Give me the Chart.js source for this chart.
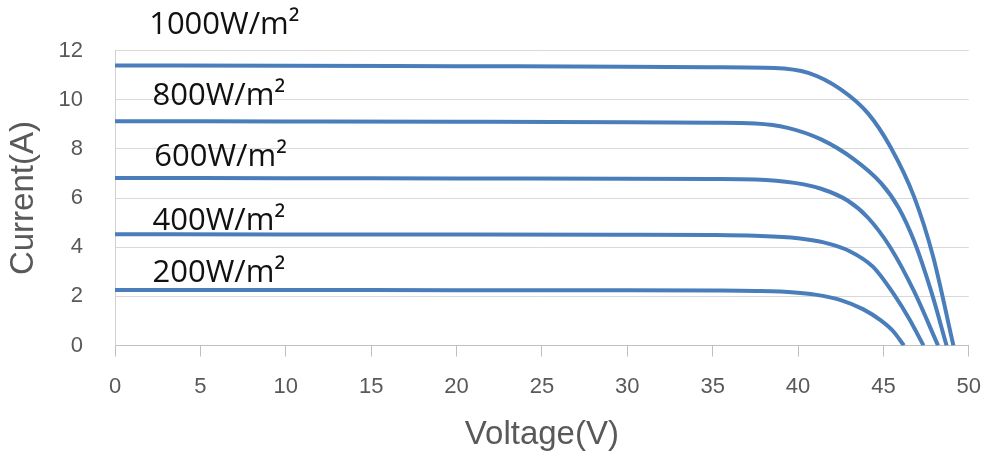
<!DOCTYPE html>
<html>
<head>
<meta charset="utf-8">
<title>I-V curves</title>
<script src="https://cdn.jsdelivr.net/npm/chart.js@4.4.1/dist/chart.umd.min.js"></script>
<style>
    html, body { margin: 0; padding: 0; background: #fff; }
    canvas { display: block; }
</style>
</head>
<body>
<canvas id="ivChart" width="998" height="459"></canvas>
<script>
/* ============================================
   I-V 特性曲线 — 不同辐照度
   ============================================ */

/** 辐照度 (W/m²) */
const irradiance = [1000, 800, 600, 400, 200];

/** 各曲线的电压点 (V) */
const voltage1000 = [0, 10, 20, 30, 35, 38.6, 40.6, 42.5, 44.1, 45.4, 46.8, 47.9, 49.1];
const voltage800  = [0, 10, 20, 30, 35, 37.5, 39.4, 41.35, 43.3, 44.85, 45.9, 46.8, 47.8, 48.7];
const voltage600  = [0, 10, 20, 30, 35, 37.5, 39.8, 41.35, 42.9, 44.1, 45.4, 46.8, 48.2];
const voltage400  = [0, 10, 20, 30, 35, 37.5, 40, 41.5, 43, 44.4, 45.6, 46.5, 47.35];
const voltage200  = [0, 10, 20, 30, 35, 37.5, 39.8, 41, 42.5, 43.8, 44.85, 45.6, 46.2];

/** 各曲线的电流点 (A) */
const current1000 = [11.4, 11.39, 11.37, 11.35, 11.33, 11.3, 11.1, 10.43, 9.45, 8.1, 6.05, 3.65, 0];
const current800  = [9.13, 9.12, 9.11, 9.09, 9.07, 9.04, 8.86, 8.39, 7.57, 6.62, 5.6, 4.25, 2.2, 0];
const current600  = [6.82, 6.81, 6.8, 6.79, 6.78, 6.76, 6.62, 6.38, 5.9, 5.2, 4.0, 2.2, 0];
const current400  = [4.53, 4.52, 4.52, 4.51, 4.5, 4.47, 4.37, 4.2, 3.85, 3.2, 2.1, 1.1, 0];
const current200  = [2.26, 2.26, 2.25, 2.25, 2.24, 2.22, 2.16, 2.07, 1.85, 1.48, 1.02, 0.56, 0];

/** 坐标轴刻度 */
const xTicks = [0, 5, 10, 15, 20, 25, 30, 35, 40, 45, 50];
const yTicks = [0, 2, 4, 6, 8, 10, 12];

const voltages = [voltage1000, voltage800, voltage600, voltage400, voltage200];
const currents = [current1000, current800, current600, current400, current200];

/** 标注文字的位置 (数据坐标: 电压, 电流基线) */
const labelAnchors = [
    { x: 2.0, y: 12.67 },
    { x: 2.2, y: 9.78 },
    { x: 2.3, y: 7.29 },
    { x: 2.2, y: 4.71 },
    { x: 2.2, y: 2.6 }
];

const LINE_COLOR = '#4a7ebb';
const AXIS_TEXT = '#595959';

/** 在曲线上方绘制辐照度标注 */
const irradianceLabels = {
    id: 'irradianceLabels',
    afterDatasetsDraw(chart) {
        const { ctx, scales: { x, y } } = chart;
        ctx.save();
        ctx.font = '31px "Open Sans"';
        ctx.fillStyle = '#111';
        ctx.textAlign = 'left';
        ctx.textBaseline = 'alphabetic';
        irradiance.forEach((g, i) => {
            const a = labelAnchors[i];
            ctx.fillText(g + 'W/m²', x.getPixelForValue(a.x), y.getPixelForValue(a.y));
        });
        ctx.restore();
    }
};

function createIVChart(id) {
    const canvas = document.getElementById(id);
    return new Chart(canvas.getContext('2d'), {
        type: 'scatter',
        data: {
            datasets: irradiance.map((g, i) => ({
                label: g + 'W/m²',
                data: voltages[i].map((v, j) => ({ x: v, y: currents[i][j] })),
                showLine: true,
                borderColor: LINE_COLOR,
                borderWidth: 4,
                pointRadius: 0,
                cubicInterpolationMode: 'monotone',
                fill: false
            }))
        },
        options: {
            responsive: false,
            animation: false,
            layout: { padding: { top: 50.7, right: 22.3, left: 0, bottom: 0 } },
            plugins: {
                legend: { display: false },
                tooltip: { enabled: false }
            },
            scales: {
                x: {
                    type: 'linear',
                    min: xTicks[0],
                    max: xTicks[xTicks.length - 1],
                    afterBuildTicks: s => { s.ticks = xTicks.map(v => ({ value: v })); },
                    afterFit: s => { s.height = 113.5; },
                    ticks: { color: AXIS_TEXT, padding: 17, font: { family: 'Liberation Sans', size: 22 } },
                    grid: { drawOnChartArea: false, drawTicks: true, tickLength: 11, color: '#bfbfbf' },
                    border: { color: '#bfbfbf' },
                    title: {
                        display: true,
                        text: 'Voltage(V)',
                        color: AXIS_TEXT,
                        padding: { top: 0, bottom: 4 },
                        font: { family: 'Liberation Sans', size: 33 }
                    }
                },
                y: {
                    type: 'linear',
                    min: yTicks[0],
                    max: yTicks[yTicks.length - 1],
                    afterBuildTicks: s => { s.ticks = yTicks.map(v => ({ value: v })); },
                    afterFit: s => { s.width = 115; },
                    ticks: { color: AXIS_TEXT, padding: 32, font: { family: 'Liberation Sans', size: 22 } },
                    grid: { color: '#d9d9d9', drawTicks: false },
                    border: { color: '#d0d0d0' },
                    title: {
                        display: true,
                        text: 'Current(A)',
                        color: AXIS_TEXT,
                        padding: { top: 4, bottom: 0 },
                        font: { family: 'Liberation Sans', size: 33 }
                    }
                }
            }
        },
        plugins: [irradianceLabels]
    });
}

createIVChart('ivChart');
</script>
</body>
</html>
